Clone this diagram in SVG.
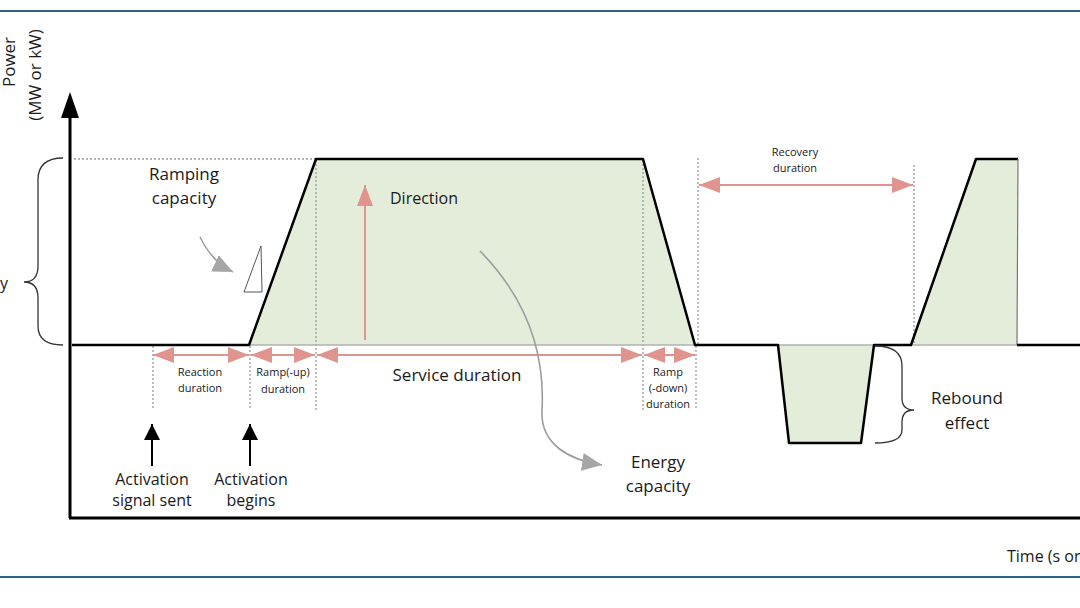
<svg xmlns="http://www.w3.org/2000/svg" width="1080" height="608" viewBox="0 0 1080 608">
<style>
text{font-family:"Open Sans","Liberation Sans",sans-serif;fill:#1a1a1a}
.big{font-size:16px}
.sm{font-size:11px}
.dot{stroke:#9a9a9a;stroke-width:1.3;stroke-dasharray:2 2;fill:none}
.red{stroke:#e0948e;stroke-width:2;fill:none}
.blk{stroke:#000;stroke-width:2.5;fill:none;stroke-linejoin:round}
.fill{fill:#e4edd9;stroke:none}
.grayc{stroke:#9c9c9c;stroke-width:1.6;fill:none}
</style>
<defs>
<marker id="ra" markerUnits="userSpaceOnUse" markerWidth="22" markerHeight="16" refX="21" refY="8" orient="auto-start-reverse"><path d="M0,0 L21,8 L0,16 Z" fill="#e0948e"/></marker>
<marker id="ba" markerUnits="userSpaceOnUse" markerWidth="18" markerHeight="16" refX="16" refY="8" orient="auto"><path d="M0,0 L16,8 L0,16 Z" fill="#000"/></marker>
<marker id="ga" markerUnits="userSpaceOnUse" markerWidth="22" markerHeight="18" refX="20" refY="9" orient="auto"><path d="M0,0 L20,9 L0,18 Z" fill="#a6a6a6"/></marker>
</defs>
<rect width="1080" height="608" fill="#fff"/>
<line x1="0" y1="11" x2="1080" y2="11" stroke="#2f5f8c" stroke-width="2"/>
<line x1="0" y1="577" x2="1080" y2="577" stroke="#2f5f8c" stroke-width="2"/>

<g id="areas">
<polygon class="fill" points="249,345 316,159 643,159 695,345"/>
<polygon class="fill" points="778,345 789,443 861,443 874,345"/>
<polygon class="fill" points="911,345 976,159 1018,159 1017,345"/>
</g>

<g id="guides">
<line class="dot" x1="74" y1="159" x2="316" y2="159"/>
<line class="dot" x1="153" y1="346" x2="153" y2="410"/>
<line class="dot" x1="250" y1="346" x2="250" y2="410"/>
<line class="dot" x1="316" y1="160" x2="316" y2="410"/>
<line class="dot" x1="643" y1="160" x2="643" y2="410"/>
<line class="dot" x1="696" y1="346" x2="696" y2="410"/>
<line class="dot" x1="698" y1="158" x2="698" y2="345"/>
<line class="dot" x1="914" y1="165" x2="914" y2="345"/>
</g>

<g id="profile">
<line x1="249" y1="345" x2="695" y2="345" stroke="#b0b0b0" stroke-width="1.5"/>
<line x1="778" y1="345" x2="874" y2="345" stroke="#b0b0b0" stroke-width="1.5"/>
<line x1="911" y1="345" x2="1017" y2="345" stroke="#b0b0b0" stroke-width="1.5"/>
<polyline class="blk" points="72,345 249,345 316,159 643,159 695,345 778,345 789,443 861,443 874,345 911,345 976,159 1018,159"/>
<line x1="1018" y1="159" x2="1017" y2="345" stroke="#777" stroke-width="1.2"/>
<line class="blk" x1="1017" y1="345" x2="1080" y2="345"/>
</g>

<g id="axes">
<line x1="70" y1="112" x2="70" y2="518" stroke="#000" stroke-width="3"/>
<polygon points="70,92 61,118 79,118" fill="#000"/>
<line x1="69" y1="518" x2="1080" y2="518" stroke="#000" stroke-width="3"/>
<text transform="translate(15,62) rotate(-90)" text-anchor="middle" style="font-size:17px">Power</text>
<text transform="translate(41,75) rotate(-90)" text-anchor="middle" style="font-size:17px">(MW or kW)</text>
<text class="big" x="1007" y="562">Time (s or min)</text>
</g>

<g id="capacity-brace">
<path d="M63,158 Q38,158 38,180 L38,266 Q38,282 24,282 Q38,282 38,298 L38,326 Q38,345 63,345" fill="none" stroke="#333" stroke-width="1.3"/>
<text class="big" x="8" y="289" text-anchor="end">Capacity</text>
</g>

<g id="ramping-capacity">
<text x="184" y="180" text-anchor="middle" style="font-size:17px">Ramping</text>
<text x="184" y="204" text-anchor="middle" style="font-size:17px">capacity</text>
<polygon points="244,292 261,246 262,292" fill="#fff" stroke="#555" stroke-width="1"/>
<path class="grayc" d="M200,237 Q212,262 233,272" marker-end="url(#ga)"/>
</g>

<g id="direction">
<line class="red" x1="365" y1="340" x2="365" y2="185" marker-end="url(#ra)"/>
<text class="big" x="390" y="204">Direction</text>
</g>

<g id="durations">
<line class="red" x1="153" y1="355" x2="249" y2="355" marker-start="url(#ra)" marker-end="url(#ra)"/>
<text class="sm" x="200" y="376" text-anchor="middle">Reaction</text>
<text class="sm" x="200" y="392" text-anchor="middle">duration</text>
<line class="red" x1="251" y1="355" x2="315" y2="355" marker-start="url(#ra)" marker-end="url(#ra)"/>
<text class="sm" x="283" y="376" text-anchor="middle">Ramp(-up)</text>
<text class="sm" x="283" y="393" text-anchor="middle">duration</text>
<line class="red" x1="317" y1="355" x2="642" y2="355" marker-start="url(#ra)" marker-end="url(#ra)"/>
<text x="457" y="381" text-anchor="middle" style="font-size:17px">Service duration</text>
<line class="red" x1="644" y1="355" x2="695" y2="355" marker-start="url(#ra)" marker-end="url(#ra)"/>
<text class="sm" x="668" y="376" text-anchor="middle">Ramp</text>
<text class="sm" x="668" y="392" text-anchor="middle">(-down)</text>
<text class="sm" x="668" y="408" text-anchor="middle">duration</text>
<line class="red" x1="699" y1="185" x2="913" y2="185" marker-start="url(#ra)" marker-end="url(#ra)"/>
<text class="sm" x="795" y="156" text-anchor="middle">Recovery</text>
<text class="sm" x="795" y="172" text-anchor="middle">duration</text>
</g>

<g id="energy-capacity">
<path class="grayc" d="M480,251 C528,300 545,355 542,410 C540,445 570,460 602,465" marker-end="url(#ga)"/>
<text x="658" y="468" text-anchor="middle" style="font-size:17px">Energy</text>
<text x="658" y="492" text-anchor="middle" style="font-size:17px">capacity</text>
</g>

<g id="activation">
<line x1="152" y1="466" x2="152" y2="424" stroke="#000" stroke-width="2" marker-end="url(#ba)"/>
<text class="big" x="152" y="485" text-anchor="middle">Activation</text>
<text class="big" x="152" y="506" text-anchor="middle">signal sent</text>
<line x1="250" y1="466" x2="250" y2="424" stroke="#000" stroke-width="2" marker-end="url(#ba)"/>
<text class="big" x="251" y="485" text-anchor="middle">Activation</text>
<text class="big" x="251" y="506" text-anchor="middle">begins</text>
</g>

<g id="rebound">
<path d="M875,346 Q902,346 902,366 L902,398 Q902,410 914,410 Q902,410 902,422 L902,430 Q902,443 875,443" fill="none" stroke="#333" stroke-width="1.3"/>
<text x="967" y="404" text-anchor="middle" style="font-size:17px">Rebound</text>
<text x="967" y="429" text-anchor="middle" style="font-size:17px">effect</text>
</g>
</svg>
